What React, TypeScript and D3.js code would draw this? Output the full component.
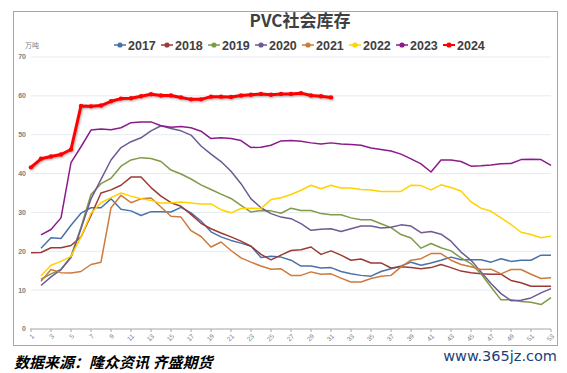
import React from 'react';
import * as d3 from 'd3';

// weeks 1..53
const weeks = d3.range(1, 54);
const years = ['2017', '2018', '2019', '2020', '2021', '2022', '2023', '2024'];
const colors = ['#4A72A8', '#9B3B37', '#7F9A48', '#6E5A92', '#CD7B3C', '#FFD200', '#8B1A8B', '#FF0000'];
const yTicks = [0, 10, 20, 30, 40, 50, 60, 70];
const xTickLabels = weeks.filter((w) => w % 2 === 1);

// 万吨, index 0 = week 1
const s2017 = [null, 20.8, 23.5, 23.3, 26.7, 29.8, 31.2, 31.2, 33.5, 30.8, 30.4, 29.2, 30.2, 30.2, 30.1, 31.3, 29.9, 27.8, 25.0, 23.7, 22.8, 22.1, 21.3, 18.4, 18.7, 18.5, 17.7, 16.2, 16.2, 15.7, 15.8, 14.8, 14.2, 13.8, 13.6, 14.8, 15.5, 16.2, 17.2, 16.4, 17.0, 17.7, 18.5, 17.8, 17.8, 17.8, 17.2, 18.1, 17.4, 17.7, 17.7, 19.0, 19.0];
const s2018 = [19.6, 19.7, 20.9, 20.9, 21.5, 23.7, 29.2, 35.0, 35.8, 37.0, 39.1, 39.1, 36.4, 34.2, 32.5, 31.6, 29.5, 27.2, 25.8, 24.7, 23.7, 22.6, 21.3, 19.2, 17.8, 19.0, 20.2, 20.4, 21.1, 19.2, 20.1, 19.0, 17.7, 18.0, 17.0, 17.0, 15.7, 16.0, 15.8, 15.5, 15.8, 16.6, 15.8, 14.9, 14.5, 14.2, 14.1, 14.1, 12.5, 11.9, 11.0, 11.0, 11.0];
const s2019 = [null, 12.8, 14.2, 15.3, 18.7, 26.2, 34.6, 37.4, 38.8, 41.9, 43.5, 44.1, 43.9, 43.1, 40.9, 39.9, 38.6, 37.1, 35.9, 34.7, 33.6, 31.8, 30.1, 30.5, 30.4, 29.8, 31.1, 30.5, 30.5, 29.7, 29.4, 29.4, 28.6, 28.1, 28.1, 27.1, 26.1, 24.3, 23.4, 20.8, 22.0, 20.9, 20.1, 18.3, 16.8, 14.2, 10.8, 7.5, 7.5, 7.1, 6.9, 6.3, 8.1];
const s2020 = [null, 11.2, 13.4, 15.3, 18.4, 25.8, 33.5, 38.5, 43.5, 46.7, 48.2, 49.2, 51.0, 52.3, 51.6, 51.0, 49.9, 47.1, 45.0, 43.1, 40.6, 37.4, 33.5, 31.2, 29.7, 28.8, 28.4, 27.1, 25.4, 25.7, 25.8, 25.1, 25.8, 26.5, 26.5, 26.0, 26.2, 26.8, 26.5, 24.8, 25.1, 24.4, 22.6, 19.8, 17.7, 14.7, 11.7, 9.1, 7.3, 7.4, 8.0, 9.3, 10.4];
const s2021 = [null, 12.3, 15.3, 14.5, 14.4, 14.8, 16.6, 17.2, 31.2, 34.4, 32.5, 33.5, 33.7, 31.4, 29.0, 28.8, 25.3, 23.8, 21.1, 22.4, 20.2, 18.3, 17.2, 16.2, 15.4, 15.5, 13.8, 13.8, 14.7, 14.1, 14.2, 13.1, 12.1, 12.1, 13.0, 13.6, 13.8, 16.0, 17.7, 18.1, 19.4, 19.4, 17.7, 16.6, 16.0, 15.3, 15.4, 14.2, 15.3, 15.3, 14.1, 13.0, 13.2];
const s2022 = [null, 13.7, 16.4, 17.4, 18.7, 23.7, 29.8, 32.5, 33.8, 35.0, 34.2, 33.5, 33.1, 32.4, 32.4, 32.7, 32.4, 32.2, 32.2, 30.7, 29.9, 31.0, 31.1, 31.0, 33.3, 33.8, 34.6, 35.7, 37.0, 36.1, 37.0, 36.3, 36.3, 35.9, 35.8, 35.4, 35.4, 35.4, 37.0, 36.9, 35.8, 37.1, 36.4, 35.5, 32.7, 31.1, 30.3, 28.6, 26.9, 24.9, 24.3, 23.5, 23.9];
const s2023 = [null, 24.2, 25.6, 28.6, 42.8, 46.9, 51.2, 51.5, 51.3, 51.8, 53.1, 53.3, 53.3, 52.3, 51.9, 52.1, 51.8, 50.9, 49.0, 49.2, 49.0, 48.5, 46.7, 46.8, 47.3, 48.4, 48.5, 48.3, 47.9, 47.6, 47.9, 47.6, 47.5, 47.3, 46.6, 46.2, 45.8, 45.0, 43.8, 42.5, 40.4, 43.5, 43.5, 43.1, 41.9, 42.0, 42.2, 42.5, 42.6, 43.6, 43.7, 43.6, 42.1];
const s2024 = [41.6, 43.8, 44.4, 44.9, 46.2, 57.4, 57.3, 57.5, 58.6, 59.3, 59.4, 59.9, 60.4, 60.1, 60.1, 59.6, 59.1, 59.1, 59.8, 59.8, 59.7, 60.1, 60.3, 60.5, 60.3, 60.5, 60.5, 60.7, 60.1, 59.9, 59.6];

const series = [s2017, s2018, s2019, s2020, s2021, s2022, s2023, s2024];

const App = () => {
  const width = 567, height = 373;
  const x = d3.scalePoint<number>().domain(weeks).range([31, 551]);
  const y = d3.scaleLinear().domain([0, 70]).range([329, 57]);

  const line = d3.line<number | null>()
    .defined((d) => d != null)
    .x((d, i) => x(weeks[i]) as number)
    .y((d) => y(d as number));

  const gray = '#7f7f7f';

  return (
    <svg width={width} height={height} style={{ position: 'absolute', left: 0, top: 0, background: '#fff' }}
      fontFamily="'Liberation Sans', Arial, sans-serif">
      <defs>
        <filter id="glow" x="-10%" y="-50%" width="120%" height="200%">
          <feDropShadow dx="0.8" dy="1" stdDeviation="1.2" floodColor="#000" floodOpacity="0.35" />
        </filter>
      </defs>
      <rect x={13.5} y={11.5} width={544} height={334} fill="#fff" stroke="#a6a6a6" />

      {/* title */}
      <text x={300} y={27} textAnchor="middle" fontSize={17} fontWeight="bold" fill="#404040"
        fontFamily="'Noto Sans CJK SC', sans-serif">PVC社会库存</text>

      {/* legend */}
      {years.map((yr, i) => {
        const lx = 114 + i * 47;
        return (
          <g key={yr}>
            <line x1={lx} x2={lx + 12} y1={45} y2={45} stroke={colors[i]} strokeWidth={i === 7 ? 2 : 1.5} />
            <circle cx={lx + 6} cy={45} r={2.6} fill={colors[i]} />
            <text x={lx + 14} y={49.5} fontSize={12.5} fontWeight="bold" fill="#404040">{yr}</text>
          </g>
        );
      })}

      <text x={25} y={48} fontSize={7} fill={gray} fontFamily="'Noto Sans CJK SC', sans-serif">万吨</text>

      {/* gridlines + y labels */}
      {yTicks.map((t) => (
        <g key={t}>
          {t > 0 && <line x1={31} x2={551} y1={y(t)} y2={y(t)} stroke="#e6ebf3" strokeWidth={1} />}
          <text x={26} y={y(t)} dy="0.35em" textAnchor="end" fontSize={7} fill={gray} fontWeight="bold">{t}</text>
        </g>
      ))}

      {/* x axis */}
      <line x1={30} x2={551} y1={y(0)} y2={y(0)} stroke="#a6a6a6" />
      {xTickLabels.map((w) => (
        <g key={w}>
          <line x1={x(w)} x2={x(w)} y1={y(0)} y2={y(0) + 3} stroke="#a6a6a6" />
          <text transform={`translate(${x(w)! + 2},${y(0) + 6}) rotate(-45)`} textAnchor="end" fontSize={6.5}
            fill={gray} dy="0.35em">{w}</text>
        </g>
      ))}

      {/* series */}
      {series.map((s, i) => i < 7 && (
        <path key={years[i]} d={line(s) || ''} fill="none" stroke={colors[i]} strokeWidth={1.5} strokeLinejoin="round" />
      ))}
      <g filter="url(#glow)">
        <path d={line(s2024) || ''} fill="none" stroke={colors[7]} strokeWidth={3} strokeLinejoin="round" />
        {s2024.map((v, i) => (
          <circle key={i} cx={x(weeks[i])} cy={y(v)} r={2.2} fill={colors[7]} />
        ))}
      </g>

      {/* footer */}
      <text x={14} y={368} fontSize={15} fontWeight="bold" fontStyle="italic" fill="#000"
        fontFamily="'Noto Sans CJK SC', serif">数据来源：隆众资讯 齐盛期货</text>
      <text x={557} y={361} textAnchor="end" fontSize={14.5} fill="#1c3f77"
        fontFamily="'DejaVu Sans', sans-serif">www.365jz.com</text>
    </svg>
  );
};

export default App;
